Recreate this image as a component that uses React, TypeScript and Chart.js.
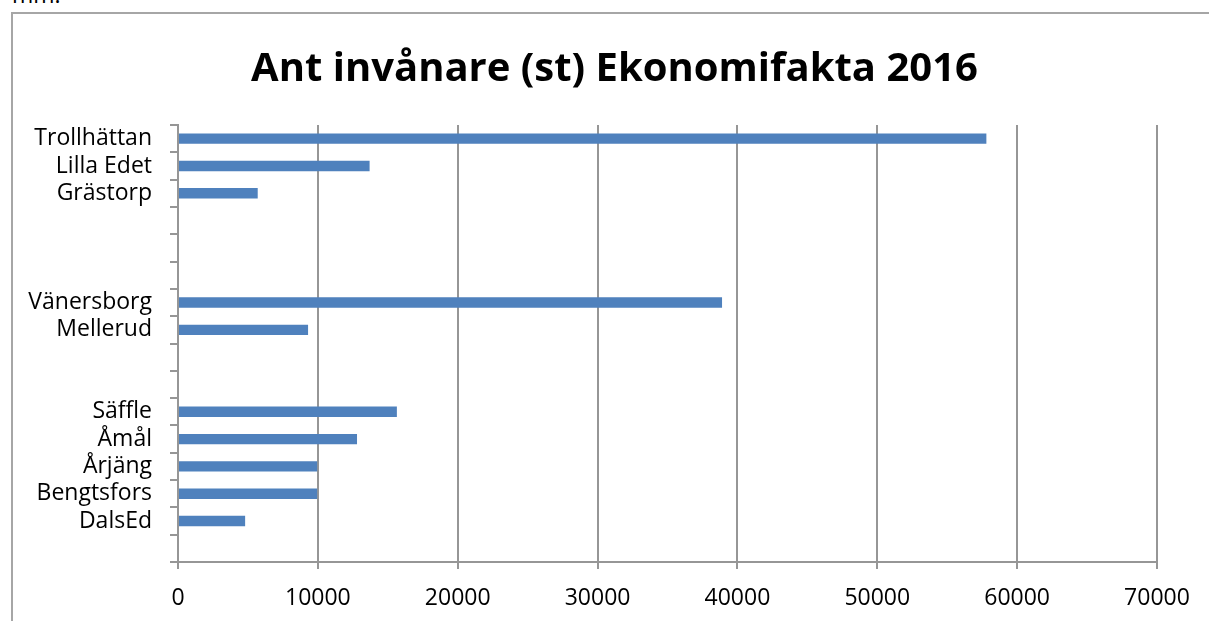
import React, { useEffect, useRef } from "react";
import { Chart, registerables } from "chart.js";

Chart.register(...registerables);

const categories: string[] = [
  "Trollhättan",
  "Lilla Edet",
  "Grästorp",
  "",
  "",
  "",
  "Vänersborg",
  "Mellerud",
  "",
  "",
  "Säffle",
  "Åmål",
  "Årjäng",
  "Bengtsfors",
  "DalsEd",
  "",
];

const inhabitants: (number | null)[] = [
  57800, 13700, 5700, null, null, null, 38900, 9300, null, null, 15650, 12800, 9950, 9950, 4800, null,
];

const titleText = "Ant invånare (st) Ekonomifakta 2016";
const xMin = 0;
const xMax = 70000;
const xStep = 10000;

const FONT = "'Open Sans', 'DejaVu Sans', sans-serif";
const GRID = "#969696";

export default function App() {
  const canvasRef = useRef<HTMLCanvasElement | null>(null);

  useEffect(() => {
    const canvas = canvasRef.current;
    if (!canvas) return;
    const chart = new Chart(canvas, {
      type: "bar",
      data: {
        labels: categories,
        datasets: [
          {
            label: titleText,
            data: inhabitants,
            backgroundColor: "#4f81bd",
            borderWidth: 0,
            categoryPercentage: 1,
            barPercentage: 0.38,
          },
        ],
      },
      options: {
        indexAxis: "y",
        animation: false,
        responsive: false,
        maintainAspectRatio: false,
        layout: { padding: { left: 20, right: 0, top: 0, bottom: 0 } },
        plugins: {
          legend: { display: false },
          tooltip: { enabled: false },
          title: {
            display: true,
            text: titleText,
            color: "#000",
            font: { family: FONT, size: 40, weight: "bold", lineHeight: 1.2 },
            padding: { top: 46, bottom: 31 },
          },
        },
        scales: {
          x: {
            type: "linear",
            min: xMin,
            max: xMax,
            ticks: {
              stepSize: xStep,
              color: "#000",
              font: { family: FONT, size: 23 },
              padding: 16,
              maxRotation: 0,
              callback: (v: any) => String(v),
            },
            grid: {
              color: GRID,
              lineWidth: 2,
              tickLength: 7,
              drawTicks: true,
            },
            border: { display: true, color: GRID, width: 2 },
            afterFit: (scale: any) => {
              scale.paddingRight = 52;
              scale.height = 59;
            },
          },
          y: {
            type: "category",
            offset: true,
            ticks: {
              color: "#000",
              font: { family: FONT, size: 23 },
              padding: 18,
              autoSkip: false,
            },
            grid: {
              display: true,
              offset: true,
              drawOnChartArea: false,
              drawTicks: true,
              tickLength: 8,
              color: GRID,
              lineWidth: 2,
            },
            border: { display: true, color: GRID, width: 2 },
            afterFit: (scale: any) => {
              scale.width = 158;
            },
          },
        },
      },
    });
    return () => chart.destroy();
  }, []);

  return (
    <div
      style={{
        position: "fixed",
        left: 0,
        top: 0,
        width: 1209,
        height: 621,
        overflow: "hidden",
        background: "#fff",
      }}
    >
      <span
        style={{
          position: "absolute",
          left: 12,
          top: -22,
          fontFamily: FONT,
          fontSize: 23,
          color: "#000",
          lineHeight: "normal",
        }}
      >
        mm.
      </span>
      <div
        style={{
          position: "absolute",
          left: 11,
          top: 12,
          width: 1300,
          height: 700,
          borderTop: "2px solid #a6a6a6",
          borderLeft: "2px solid #a6a6a6",
        }}
      />
      <canvas
        ref={canvasRef}
        width={1209}
        height={621}
        style={{ position: "absolute", left: 0, top: 0, width: 1209, height: 621 }}
      />
    </div>
  );
}
